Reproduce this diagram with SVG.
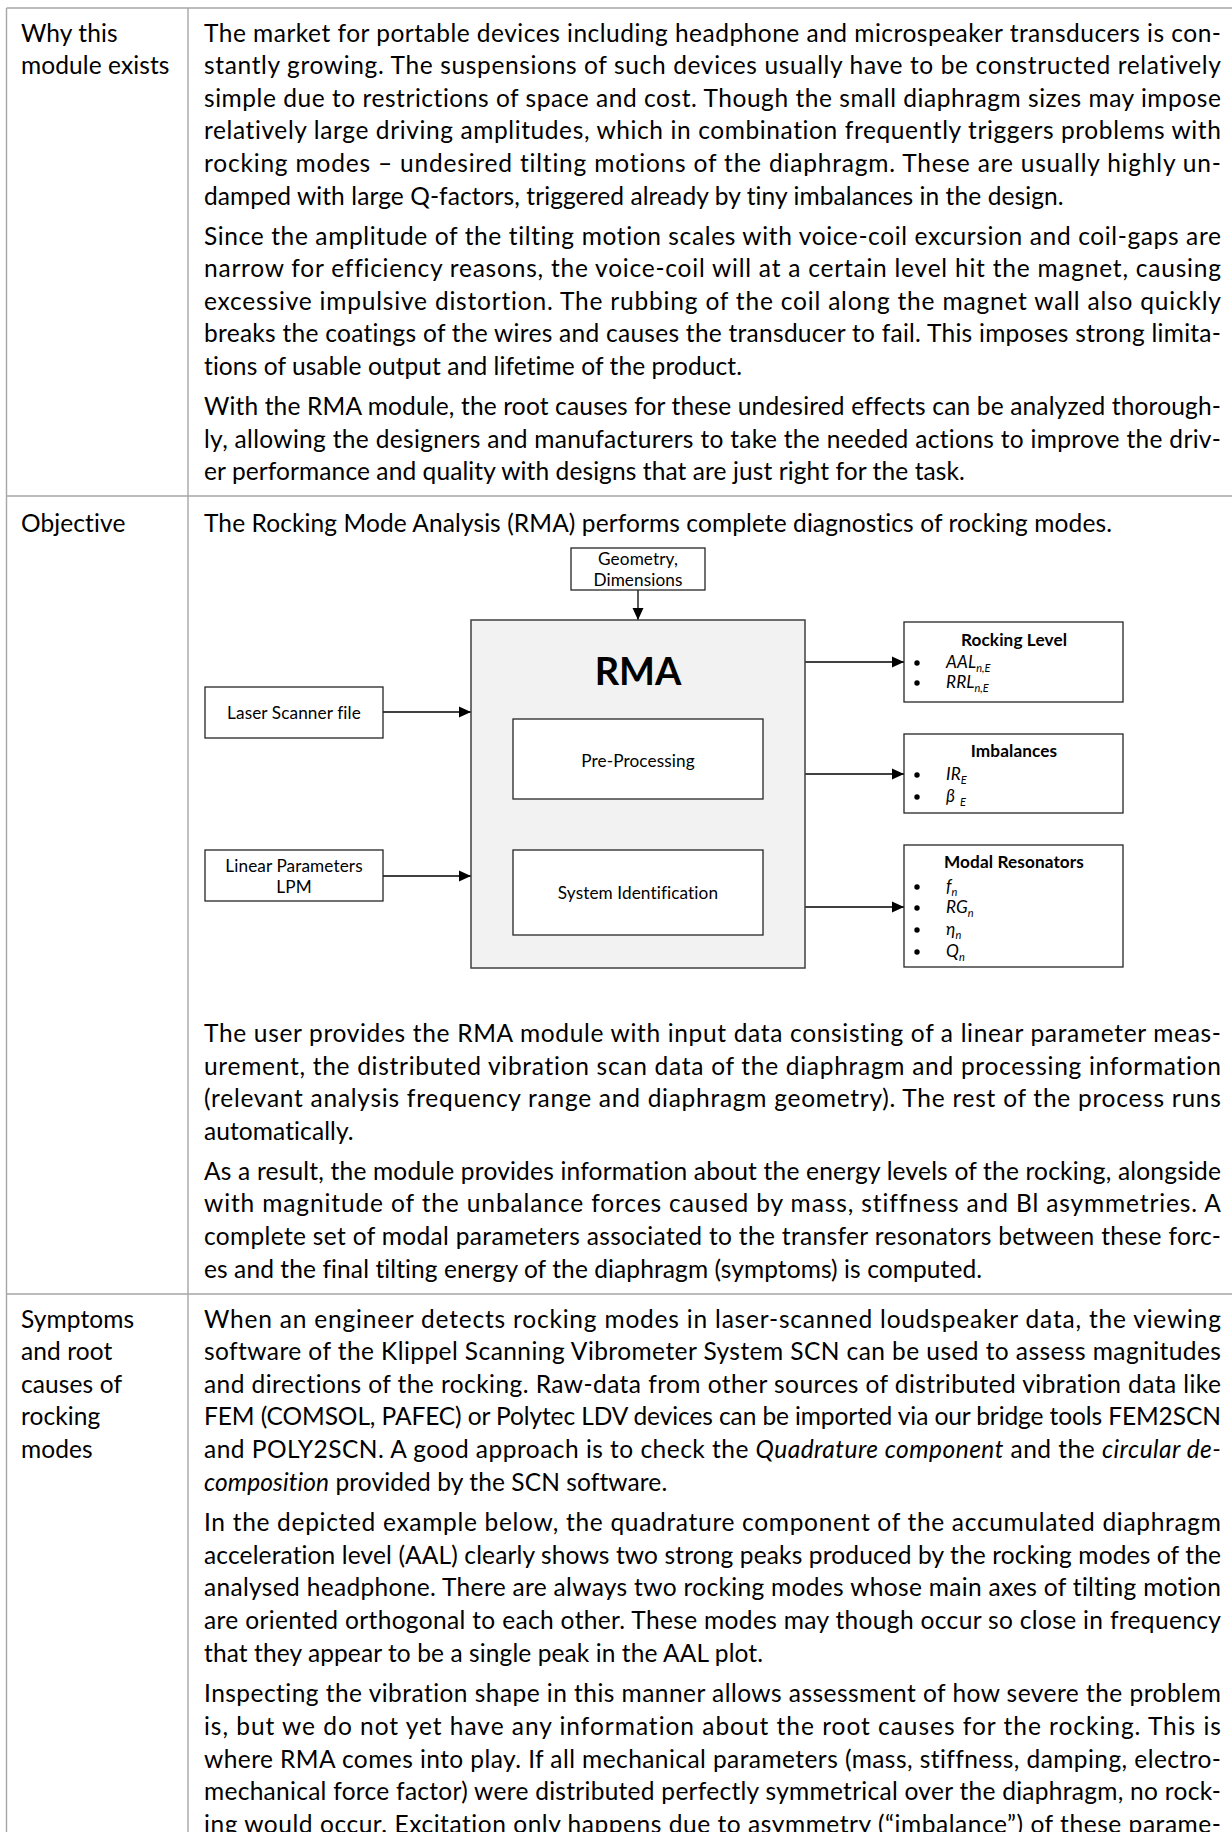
<svg xmlns="http://www.w3.org/2000/svg" width="1232" height="1832" viewBox="0 0 1232 1832">
<style>
text{font-family:Lato,"Liberation Sans","DejaVu Sans",sans-serif;fill:#000}
.t{font-size:24.5px;letter-spacing:0.1px}
.s{font-size:17.2px;letter-spacing:0.1px}
.b{font-weight:bold}
.i{font-style:italic}
.sub{font-size:11px;letter-spacing:0}
.c{text-anchor:middle}
.grid{stroke:#a6a6a6;stroke-width:1.4;fill:none}
.box{fill:#fff;stroke:#262626;stroke-width:1.3}
.main{fill:#f2f2f2;stroke:#404040;stroke-width:1.5}
.con{stroke:#000;stroke-width:1.3;fill:none}
</style>
<defs>
<marker id="ah" markerUnits="userSpaceOnUse" markerWidth="12" markerHeight="12" viewBox="0 0 12 12" refX="12" refY="6" orient="auto">
<path d="M0,0.5 L12,6 L0,11.5 z" fill="#000"/>
</marker>
</defs>
<rect width="1232" height="1832" fill="#fff"/>

<g id="table-grid">
<line class="grid" x1="6.5" y1="8" x2="1232" y2="8"/>
<line class="grid" x1="6.5" y1="8" x2="6.5" y2="1832"/>
<line class="grid" x1="188" y1="8" x2="188" y2="1832"/>
<line class="grid" x1="6.5" y1="496" x2="1232" y2="496"/>
<line class="grid" x1="6.5" y1="1294" x2="1232" y2="1294"/>
</g>

<g id="row1">
<text class="t" x="21" y="41.5">Why this</text>
<text class="t" x="21" y="74.1">module exists</text>
<text class="t" x="204" y="41.5" textLength="1017" lengthAdjust="spacing">The market for portable devices including headphone and microspeaker transducers is con-</text>
<text class="t" x="204" y="74.1" textLength="1017" lengthAdjust="spacing">stantly growing. The suspensions of such devices usually have to be constructed relatively</text>
<text class="t" x="204" y="106.7" textLength="1017" lengthAdjust="spacing">simple due to restrictions of space and cost. Though the small diaphragm sizes may impose</text>
<text class="t" x="204" y="139.3" textLength="1017" lengthAdjust="spacing">relatively large driving amplitudes, which in combination frequently triggers problems with</text>
<text class="t" x="204" y="171.9" textLength="1017" lengthAdjust="spacing">rocking modes – undesired tilting motions of the diaphragm. These are usually highly un-</text>
<text class="t" x="204" y="204.5">damped with large Q-factors, triggered already by tiny imbalances in the design.</text>
<text class="t" x="204" y="244.5" textLength="1017" lengthAdjust="spacing">Since the amplitude of the tilting motion scales with voice-coil excursion and coil-gaps are</text>
<text class="t" x="204" y="277.1" textLength="1017" lengthAdjust="spacing">narrow for efficiency reasons, the voice-coil will at a certain level hit the magnet, causing</text>
<text class="t" x="204" y="309.7" textLength="1017" lengthAdjust="spacing">excessive impulsive distortion. The rubbing of the coil along the magnet wall also quickly</text>
<text class="t" x="204" y="342.3" textLength="1017" lengthAdjust="spacing">breaks the coatings of the wires and causes the transducer to fail. This imposes strong limita-</text>
<text class="t" x="204" y="374.9">tions of usable output and lifetime of the product.</text>
<text class="t" x="204" y="414.9" textLength="1017" lengthAdjust="spacing">With the RMA module, the root causes for these undesired effects can be analyzed thorough-</text>
<text class="t" x="204" y="447.5" textLength="1017" lengthAdjust="spacing">ly, allowing the designers and manufacturers to take the needed actions to improve the driv-</text>
<text class="t" x="204" y="480.1">er performance and quality with designs that are just right for the task.</text>
</g>

<g id="row2">
<text class="t" x="21" y="532">Objective</text>
<text class="t" x="204" y="532">The Rocking Mode Analysis (RMA) performs complete diagnostics of rocking modes.</text>
<text class="t" x="204" y="1042" textLength="1017" lengthAdjust="spacing">The user provides the RMA module with input data consisting of a linear parameter meas-</text>
<text class="t" x="204" y="1074.6" textLength="1017" lengthAdjust="spacing">urement, the distributed vibration scan data of the diaphragm and processing information</text>
<text class="t" x="204" y="1107.2" textLength="1017" lengthAdjust="spacing">(relevant analysis frequency range and diaphragm geometry). The rest of the process runs</text>
<text class="t" x="204" y="1139.8">automatically.</text>
<text class="t" x="204" y="1179.8" textLength="1017" lengthAdjust="spacing">As a result, the module provides information about the energy levels of the rocking, alongside</text>
<text class="t" x="204" y="1212.4" textLength="1017" lengthAdjust="spacing">with magnitude of the unbalance forces caused by mass, stiffness and Bl asymmetries. A</text>
<text class="t" x="204" y="1245" textLength="1017" lengthAdjust="spacing">complete set of modal parameters associated to the transfer resonators between these forc-</text>
<text class="t" x="204" y="1277.6">es and the final tilting energy of the diaphragm (symptoms) is computed.</text>
</g>

<g id="connectors">
<line class="con" x1="638" y1="590" x2="638" y2="620" marker-end="url(#ah)"/>
<line class="con" x1="383" y1="712" x2="471" y2="712" marker-end="url(#ah)"/>
<line class="con" x1="383" y1="876" x2="471" y2="876" marker-end="url(#ah)"/>
<line class="con" x1="805" y1="662" x2="904" y2="662" marker-end="url(#ah)"/>
<line class="con" x1="805" y1="774" x2="904" y2="774" marker-end="url(#ah)"/>
<line class="con" x1="805" y1="907" x2="904" y2="907" marker-end="url(#ah)"/>
</g>

<g id="geometry">
<rect class="box" x="571" y="548" width="134" height="42"/>
<text class="s c" x="638" y="564.5">Geometry,</text>
<text class="s c" x="638" y="586">Dimensions</text>
</g>

<g id="rma">
<rect class="main" x="471" y="620" width="334" height="348"/>
<text class="b c" x="638" y="685" font-size="38">RMA</text>
</g>

<g id="pre-processing">
<rect class="box" x="513" y="719" width="250" height="80"/>
<text class="s c" x="638" y="767">Pre-Processing</text>
</g>

<g id="system-identification">
<rect class="box" x="513" y="850" width="250" height="85"/>
<text class="s c" x="638" y="899">System Identification</text>
</g>

<g id="laser-scanner">
<rect class="box" x="205" y="687" width="178" height="51"/>
<text class="s c" x="294" y="719">Laser Scanner file</text>
</g>

<g id="linear-parameters">
<rect class="box" x="205" y="850" width="178" height="51"/>
<text class="s c" x="294" y="871.7">Linear Parameters</text>
<text class="s c" x="294" y="893.3">LPM</text>
</g>

<g id="rocking-level">
<rect class="box" x="904" y="622" width="219" height="80"/>
<text class="s b c" x="1014" y="646">Rocking Level</text>
<circle cx="917" cy="663" r="2.7"/>
<circle cx="917" cy="683" r="2.7"/>
<text class="s i" x="946" y="668">AAL<tspan class="sub" dy="3.5">n,E</tspan></text>
<text class="s i" x="946" y="688">RRL<tspan class="sub" dy="3.5">n,E</tspan></text>
</g>

<g id="imbalances">
<rect class="box" x="904" y="734" width="219" height="79"/>
<text class="s b c" x="1014" y="757">Imbalances</text>
<circle cx="917" cy="775" r="2.7"/>
<circle cx="917" cy="797" r="2.7"/>
<text class="s i" x="946" y="780">IR<tspan class="sub" dy="3.5">E</tspan></text>
<text class="s i" x="946" y="802">β<tspan class="sub" dy="3.5" dx="5">E</tspan></text>
</g>

<g id="modal-resonators">
<rect class="box" x="904" y="845" width="219" height="122"/>
<text class="s b c" x="1014" y="868">Modal Resonators</text>
<circle cx="917" cy="887" r="2.7"/>
<circle cx="917" cy="908" r="2.7"/>
<circle cx="917" cy="930" r="2.7"/>
<circle cx="917" cy="952" r="2.7"/>
<text class="s i" x="946" y="892">f<tspan class="sub" dy="3.5">n</tspan></text>
<text class="s i" x="946" y="913">RG<tspan class="sub" dy="3.5">n</tspan></text>
<text class="s i" x="946" y="935">η<tspan class="sub" dy="3.5">n</tspan></text>
<text class="s i" x="946" y="957">Q<tspan class="sub" dy="3.5">n</tspan></text>
</g>

<g id="row3">
<text class="t" x="21" y="1327.5">Symptoms</text>
<text class="t" x="21" y="1360.1">and root</text>
<text class="t" x="21" y="1392.7">causes of</text>
<text class="t" x="21" y="1425.3">rocking</text>
<text class="t" x="21" y="1457.9">modes</text>
<text class="t" x="204" y="1327.5" textLength="1017" lengthAdjust="spacing">When an engineer detects rocking modes in laser-scanned loudspeaker data, the viewing</text>
<text class="t" x="204" y="1360.1" textLength="1017" lengthAdjust="spacing">software of the Klippel Scanning Vibrometer System SCN can be used to assess magnitudes</text>
<text class="t" x="204" y="1392.7" textLength="1017" lengthAdjust="spacing">and directions of the rocking. Raw-data from other sources of distributed vibration data like</text>
<text class="t" x="204" y="1425.3" textLength="1017" lengthAdjust="spacing">FEM (COMSOL, PAFEC) or Polytec LDV devices can be imported via our bridge tools FEM2SCN</text>
<text class="t" x="204" y="1457.9" textLength="1017" lengthAdjust="spacing">and POLY2SCN. A good approach is to check the <tspan class="i">Quadrature component</tspan> and the <tspan class="i">circular de-</tspan></text>
<text class="t" x="204" y="1490.5"><tspan class="i">composition</tspan> provided by the SCN software.</text>
<text class="t" x="204" y="1531.1" textLength="1017" lengthAdjust="spacing">In the depicted example below, the quadrature component of the accumulated diaphragm</text>
<text class="t" x="204" y="1563.7" textLength="1017" lengthAdjust="spacing">acceleration level (AAL) clearly shows two strong peaks produced by the rocking modes of the</text>
<text class="t" x="204" y="1596.3" textLength="1017" lengthAdjust="spacing">analysed headphone. There are always two rocking modes whose main axes of tilting motion</text>
<text class="t" x="204" y="1628.9" textLength="1017" lengthAdjust="spacing">are oriented orthogonal to each other. These modes may though occur so close in frequency</text>
<text class="t" x="204" y="1661.5">that they appear to be a single peak in the AAL plot.</text>
<text class="t" x="204" y="1702.3" textLength="1017" lengthAdjust="spacing">Inspecting the vibration shape in this manner allows assessment of how severe the problem</text>
<text class="t" x="204" y="1735" textLength="1017" lengthAdjust="spacing">is, but we do not yet have any information about the root causes for the rocking. This is</text>
<text class="t" x="204" y="1767.7" textLength="1017" lengthAdjust="spacing">where RMA comes into play. If all mechanical parameters (mass, stiffness, damping, electro-</text>
<text class="t" x="204" y="1800.3" textLength="1017" lengthAdjust="spacing">mechanical force factor) were distributed perfectly symmetrical over the diaphragm, no rock-</text>
<text class="t" x="204" y="1832.9" textLength="1017" lengthAdjust="spacing">ing would occur. Excitation only happens due to asymmetry (“imbalance”) of these parame-</text>
</g>
</svg>
